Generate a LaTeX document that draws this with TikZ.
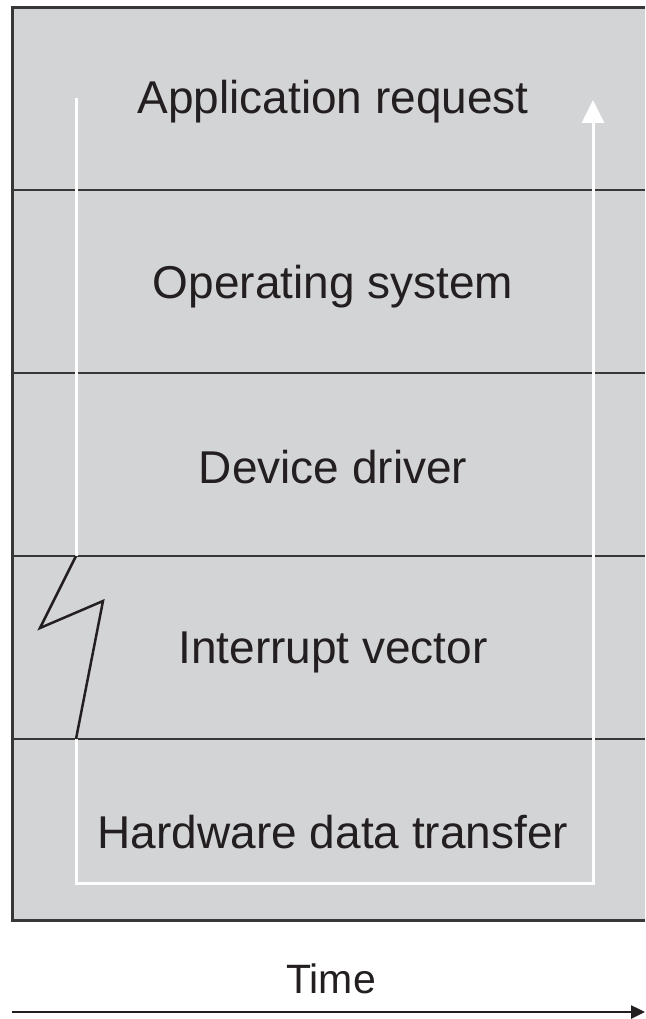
\documentclass[tikz,border=0pt]{standalone}
\usepackage{fontspec}
\setmainfont{Liberation Sans}
\usetikzlibrary{arrows.meta}
\usetikzlibrary{positioning}

\definecolor{layergray}{RGB}{211,212,214}
\definecolor{rulegray}{RGB}{55,55,55}
\definecolor{inkdark}{RGB}{35,31,32}

\tikzset{
    layertext/.style={font=\fontsize{46}{55}\selectfont, text=inkdark},
    layerrule/.style={draw=rulegray, line width=2.5pt},
    flowline/.style={draw=white, line width=3pt},
    bolt/.style={draw=inkdark, line width=2.5pt, line join=miter}
}

\begin{document}
\begin{tikzpicture}[x=1pt, y=-1pt]
            \useasboundingbox (0,0) rectangle (645,1019);

            % Layers
            \fill[layergray] (12,8) rectangle (645,920);
            \draw[layerrule, line width=3pt] (645,8) -- (12,8) -- (12,920) -- (645,920);
            \foreach \ly in {190,373,556,739}
                \draw[layerrule] (12,\ly) -- (645,\ly);

            % Layer labels
            \node[layertext] (app) at (333,102) {Application request};
            \node[layertext] (os) at (333,287) {Operating system};
            \node[layertext] (drv) at (333,467) {Device driver};
            \node[layertext] (irq) at (333,652) {Interrupt vector};
            \node[layertext] (hw) at (333,832) {Hardware data transfer};

            % Request path
            \coordinate (start) at (76,98);
            \coordinate (wait) at (76,556);
            \coordinate (resume) at (76,739);
            \coordinate (low) at (76,883);
            \coordinate (turn) at (593,883);
            \coordinate (finish) at (593,100);
            \draw[flowline] (start) -- (wait);
            \draw[flowline, -{Triangle[length=23pt,width=22pt]}] (resume) -- (low) -- (turn) -- (finish);

            % Interrupt
            \draw[bolt] (wait) -- (40,628) -- (103,601) -- (resume);

            % Time axis
            \node[font=\fontsize{41}{49}\selectfont, text=inkdark] (time) at (331,979) {Time};
            \coordinate (t0) at (12,1012);
            \coordinate (t1) at (645,1012);
            \draw[draw=inkdark, line width=2.5pt, -{Triangle[length=14pt,width=13pt]}] (t0) -- (t1);

        \end{tikzpicture}
\end{document}
